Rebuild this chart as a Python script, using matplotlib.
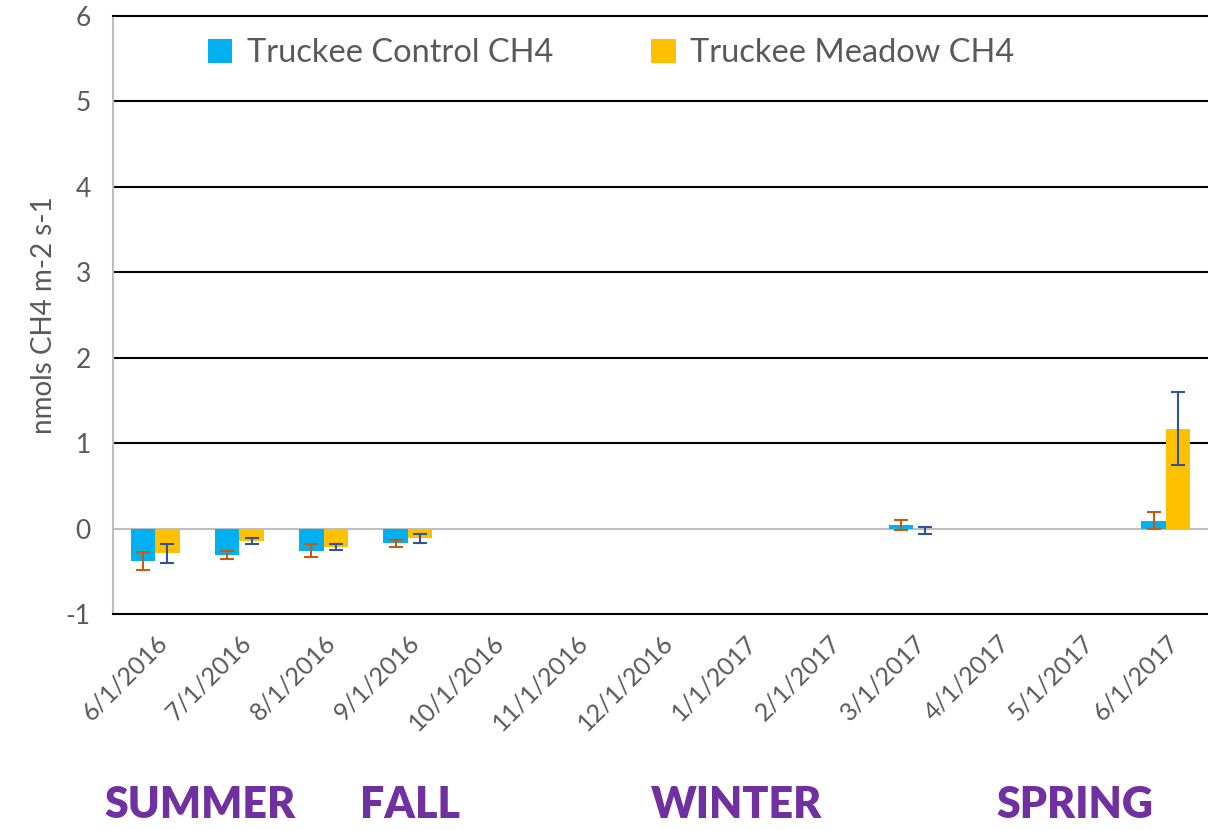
import matplotlib.pyplot as plt
import matplotlib.transforms as mtransforms
import numpy as np

plt.rcParams['font.family'] = ['Lato', 'DejaVu Sans']
plt.rcParams['axes.unicode_minus'] = False

dates = ['6/1/2016', '7/1/2016', '8/1/2016', '9/1/2016', '10/1/2016', '11/1/2016',
         '12/1/2016', '1/1/2017', '2/1/2017', '3/1/2017', '4/1/2017', '5/1/2017', '6/1/2017']
nan = np.nan
control = [-0.38, -0.31, -0.26, -0.17, nan, nan, nan, nan, nan, 0.04, nan, nan, 0.09]
control_err = [0.105, 0.045, 0.075, 0.04, nan, nan, nan, nan, nan, 0.06, nan, nan, 0.10]
meadow = [-0.29, -0.145, -0.215, -0.115, nan, nan, nan, nan, nan, -0.02, nan, nan, 1.17]
meadow_err = [0.11, 0.035, 0.03, 0.05, nan, nan, nan, nan, nan, 0.04, nan, nan, 0.43]
seasons = ['SUMMER', 'FALL', 'WINTER', 'SPRING']
season_x = [200, 410, 737, 1075]

fig = plt.figure(figsize=(12.08, 8.3), dpi=100)
ax = fig.add_axes([113 / 1208, 1 - 614 / 830, 1 - 113 / 1208, (614 - 16) / 830])

x = np.arange(len(dates))
w = 0.29
ax.bar(x - w / 2, control, w, color='#00B0F0', label='Truckee Control CH4', zorder=3)
ax.bar(x + w / 2, meadow, w, color='#FFC000', label='Truckee Meadow CH4', zorder=3)
ax.errorbar(x - w / 2, control, yerr=control_err, fmt='none', ecolor='#C55A11',
            elinewidth=1.5, capsize=5, capthick=1.5, zorder=4)
ax.errorbar(x + w / 2, meadow, yerr=meadow_err, fmt='none', ecolor='#2F5597',
            elinewidth=1.5, capsize=5, capthick=1.5, zorder=4)

ax.set_xlim(-0.5, len(dates) - 0.5)
ax.set_ylim(-1, 6)
ax.set_yticks(range(-1, 7))
for yv in range(1, 6):
    ax.axhline(yv, color='black', lw=1.5, zorder=1)
ax.axhline(0, color='#BFBFBF', lw=1.5, zorder=2)

ax.spines['right'].set_visible(False)
for s in ['top', 'bottom']:
    ax.spines[s].set_color('black')
    ax.spines[s].set_linewidth(1.5)
ax.spines['left'].set_color('#BFBFBF')
ax.spines['left'].set_linewidth(1.5)

ax.set_xticks(x)
ax.set_xticklabels(dates, rotation=45, ha='right', rotation_mode='anchor',
                   fontsize=18, color='#595959')
# nudge the rotated date labels a little to the left, like the original
offset = mtransforms.ScaledTranslation(-12 / 100, 0, fig.dpi_scale_trans)
for lbl in ax.get_xticklabels():
    lbl.set_transform(lbl.get_transform() + offset)
ax.tick_params(axis='both', length=0, pad=12)
ax.tick_params(axis='y', labelsize=19, labelcolor='#595959', pad=16)
ax.set_ylabel('nmols CH4 m-2 s-1', fontsize=20, color='#595959', labelpad=6)

ax.legend(loc='center', bbox_to_anchor=(0.455, 0.938), ncol=2, frameon=False,
          fontsize=23.5, labelcolor='#595959', handlelength=0.75, handleheight=0.75,
          columnspacing=3.0, handletextpad=0.45)

for name, sx in zip(seasons, season_x):
    fig.text(sx / 1208, 1 - 805 / 830, name, ha='center', va='center',
             fontsize=31, fontweight='heavy', color='#7030A0')

fig.savefig('out.png', dpi=100)
